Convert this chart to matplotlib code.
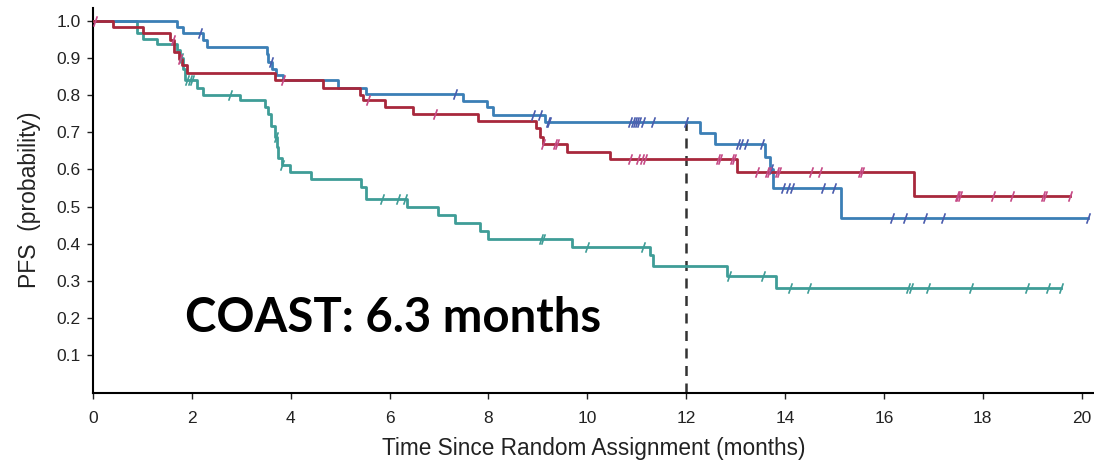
import numpy as np
import matplotlib
matplotlib.use("Agg")
import matplotlib.pyplot as plt

# Kaplan-Meier step data (months, probability)
blue_t = [0, 1.70, 1.83, 2.23, 2.30, 3.51, 3.55, 3.62, 3.70, 3.85, 4.96, 5.52,
          7.48, 7.97, 8.09, 9.14, 12.27, 12.58, 13.59, 13.70, 13.75, 15.13]
blue_s = [1.0, 0.983, 0.966, 0.948, 0.928, 0.91, 0.89, 0.87, 0.855, 0.84, 0.82, 0.804,
          0.783, 0.768, 0.746, 0.727, 0.697, 0.668, 0.634, 0.60, 0.55, 0.47]
blue_end = 20.12
blue_cens = [2.16, 3.61, 7.32, 8.9, 9.04, 9.2, 9.23, 10.86, 10.92, 10.96, 11.0, 11.04,
             11.12, 11.33, 12.0, 13.04, 13.1, 13.22, 13.53, 13.72, 13.95, 14.06, 14.14,
             14.76, 15.0, 16.16, 16.42, 16.83, 17.19, 20.12]

red_t = [0, 0.41, 1.02, 1.56, 1.63, 1.74, 1.80, 1.90, 3.68, 4.66, 5.40, 5.47, 5.90,
         6.48, 7.79, 8.97, 9.04, 9.10, 9.58, 10.45, 13.02, 16.60]
red_s = [1.0, 0.982, 0.966, 0.948, 0.915, 0.898, 0.88, 0.86, 0.84, 0.82, 0.80, 0.787,
         0.767, 0.749, 0.729, 0.711, 0.688, 0.668, 0.647, 0.627, 0.594, 0.528]
red_end = 19.76
red_cens = [0.04, 1.62, 1.75, 3.85, 5.56, 6.92, 9.1, 9.34, 9.38, 10.86, 11.03, 11.1,
            11.16, 12.64, 12.68, 12.93, 12.97, 13.43, 13.63, 13.67, 13.83, 13.87, 14.52,
            14.70, 15.51, 15.55, 17.47, 17.5, 17.53, 18.2, 18.6, 19.21, 19.25, 19.76]

teal_t = [0, 0.89, 1.02, 1.29, 1.69, 1.76, 1.82, 1.87, 2.10, 2.23, 2.97, 3.48, 3.55,
          3.60, 3.68, 3.72, 3.75, 3.82, 3.98, 4.42, 5.43, 5.53, 6.35, 6.98, 7.32, 7.83,
          7.99, 9.70, 11.26, 11.33, 12.82, 13.81]
teal_s = [1.0, 0.966, 0.95, 0.936, 0.92, 0.90, 0.87, 0.84, 0.82, 0.80, 0.786, 0.767,
          0.75, 0.716, 0.688, 0.66, 0.63, 0.611, 0.592, 0.573, 0.553, 0.52, 0.50, 0.477,
          0.456, 0.435, 0.413, 0.392, 0.37, 0.34, 0.313, 0.282]
teal_end = 19.58
teal_cens = [1.78, 1.9, 1.96, 2.0, 2.77, 3.70, 3.82, 5.84, 6.17, 6.31, 9.06, 9.1, 9.99,
             11.12, 12.87, 13.55, 14.11, 14.48, 16.48, 16.54, 16.89, 17.77, 18.89, 19.32,
             19.58]

x_ticks = [0, 2, 4, 6, 8, 10, 12, 14, 16, 18, 20]
y_ticks = [0.1, 0.2, 0.3, 0.4, 0.5, 0.6, 0.7, 0.8, 0.9, 1.0]
landmark = 12

SLASH = [(-0.35, -1), (0.35, 1)]


def km_curve(ax, t, s, end, cens, color, cens_color):
    t = np.append(t, end)
    s = np.append(s, s[-1])
    ax.step(t, s, where="post", color=color, lw=2.0, zorder=3)
    cens = np.asarray(cens)
    idx = np.searchsorted(t, cens, side="right") - 1
    ax.plot(cens, s[idx], ls="none", marker=SLASH, markersize=7.5,
            markeredgewidth=1.2, color=cens_color, zorder=4)


fig = plt.figure(figsize=(10.94, 4.66), dpi=100)
ax = fig.add_axes([93 / 1094, 1 - 392.5 / 466, 1 - 93 / 1094, (392.5 - 8) / 466])

km_curve(ax, teal_t, teal_s, teal_end, teal_cens, "#3f9d97", "#3f9d97")
km_curve(ax, blue_t, blue_s, blue_end, blue_cens, "#3b7fb6", "#4a5dae")
km_curve(ax, red_t, red_s, red_end, red_cens, "#a8283c", "#c64a86")

ax.plot([landmark, landmark], [0, 0.727], color="#333333", lw=1.8,
        dashes=(4, 3), zorder=2)

ax.set_xlim(0, 20.25)
ax.set_ylim(0, 1.034)
ax.set_xticks(x_ticks)
ax.set_yticks(y_ticks)
ax.set_xticklabels([str(v) for v in x_ticks])
ax.set_yticklabels([f"{v:.1f}" for v in y_ticks])

for side in ["top", "right"]:
    ax.spines[side].set_visible(False)
for side in ["left", "bottom"]:
    ax.spines[side].set_linewidth(1.5)

ax.tick_params(axis="both", direction="out", length=4, width=1, colors="#222222",
               labelsize=12.5)
ax.tick_params(axis="x", pad=9)
ax.tick_params(axis="y", pad=5)
for lbl in ax.get_xticklabels() + ax.get_yticklabels():
    lbl.set_family(["Liberation Sans", "DejaVu Sans"])

ax.set_xlabel("Time Since Random Assignment (months)", fontsize=16.3,
              family=["Liberation Sans", "DejaVu Sans"],
              color="#222222", labelpad=8)
ax.set_ylabel("PFS  (probability)", fontsize=16.5,
              family=["Liberation Sans", "DejaVu Sans"],
              color="#222222", labelpad=11)

ax.text(1.86, 0.2, "COAST: 6.3 months", fontsize=34, fontweight="bold",
        family=["Lato", "DejaVu Sans"], ha="left", va="center", color="black")

fig.savefig("out.png", dpi=100)
